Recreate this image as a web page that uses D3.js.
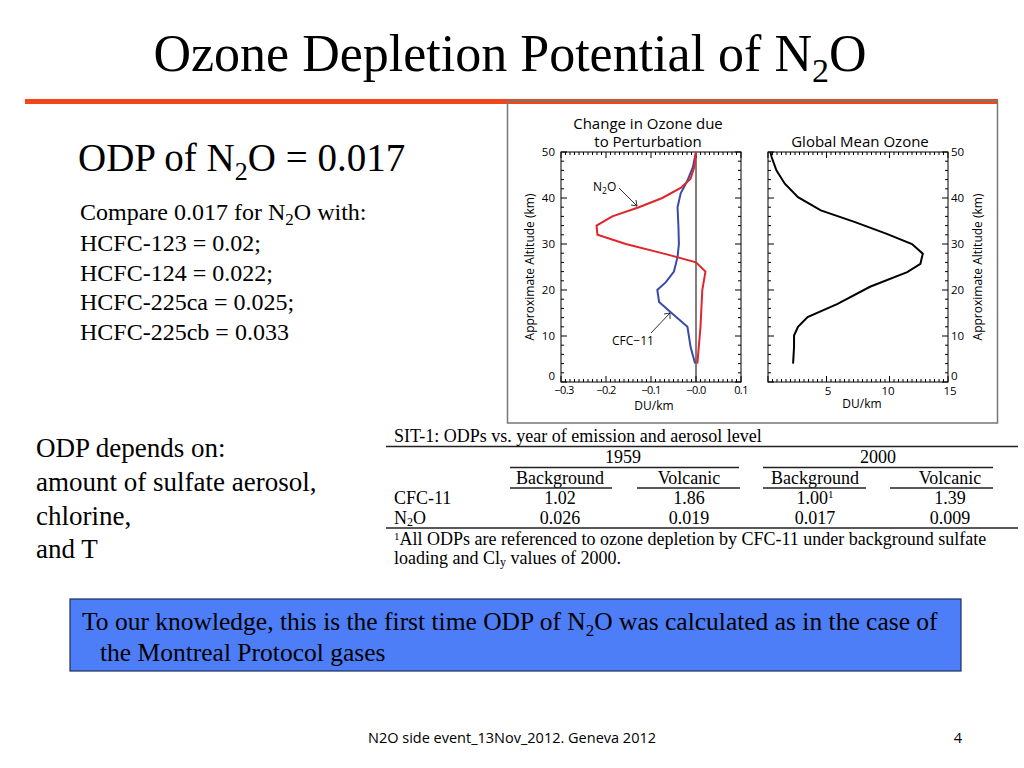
<!DOCTYPE html>
<html><head><meta charset="utf-8">
<script src="https://cdn.jsdelivr.net/npm/d3@7"></script>
<style>body{margin:0;background:#fff}svg{display:block}</style>
</head><body><svg id="s" width="1024" height="768"></svg>
<script>
const altitudes_n2o = [4,12,20,24,26,27.8,30,32,34,36,38,40,42.2,44.2,46.7,50];
const n2o_change = [0.003,0.01,0.014,0.021,0,-0.067,-0.156,-0.219,-0.221,-0.186,-0.127,-0.075,-0.034,-0.012,-0.004,0];
const altitudes_cfc = [4,7.6,12,14.9,17.4,20,21.7,24,27.2,30,33.7,38,41,43.8,46.7,50];
const cfc11_change = [-0.002,-0.012,-0.019,-0.053,-0.082,-0.086,-0.067,-0.049,-0.041,-0.038,-0.039,-0.041,-0.034,-0.019,-0.007,0];
const altitudes_oz = [4,7.6,10.1,12,14.1,17,20.7,23.9,25.7,27.9,30,32.2,34.8,37.3,40.2,43.1,46,48.9,50];
const ozone_mean = [2.09,2.17,2.17,2.5,3.3,5.8,8.5,11.6,12.7,12.9,12.0,9.9,7.2,4.4,2.5,1.4,0.7,0.3,0.2];
const leftTicks = [-0.3,-0.2,-0.1,0,0.1];
const leftTickLabels = ["\u22120.3","\u22120.2","\u22120.1","\u22120.0","0.1"];
const rightTicks = [5,10,15];
const altTicks = [0,10,20,30,40,50];
const compareLines = ["HCFC-123 = 0.02;","HCFC-124 = 0.022;","HCFC-225ca = 0.025;","HCFC-225cb = 0.033"];
const dependsLines = ["amount of sulfate aerosol,","chlorine,","and T"];
const tableCols = ["Background","Volcanic","Background","Volcanic"];
const cfc11Row = ["1.02","1.86","1.00","1.39"];
const n2oRow = ["0.026","0.019","0.017","0.009"];

const svg = d3.select("#s");
const serif = "'Liberation Serif','Times New Roman',serif";
const sans = "'Open Sans','Liberation Sans',sans-serif";

const t = svg.append("text").attr("x",510).attr("y",71).attr("text-anchor","middle").attr("font-family",serif).attr("font-size",52);
t.append("tspan").text("Ozone Depletion Potential of N");
t.append("tspan").attr("font-size",34).attr("dy",11).text("2");
t.append("tspan").attr("dy",-11).text("O");
svg.append("rect").attr("x",25).attr("y",99).attr("width",973).attr("height",5).attr("fill","#f2461a");

const o = svg.append("text").attr("x",78).attr("y",171).attr("font-family",serif).attr("font-size",39);
o.append("tspan").text("ODP of N"); o.append("tspan").attr("font-size",26).attr("dy",9).text("2"); o.append("tspan").attr("dy",-9).text("O = 0.017");
const c = svg.append("text").attr("x",80).attr("y",220).attr("font-family",serif).attr("font-size",24);
c.append("tspan").text("Compare 0.017 for N"); c.append("tspan").attr("font-size",17).attr("dy",5).text("2"); c.append("tspan").attr("dy",-5).text("O with:");
compareLines.forEach((l,i)=>svg.append("text").attr("x",80).attr("y",251+i*29.5).attr("font-family",serif).attr("font-size",24).text(l));
svg.append("text").attr("x",36).attr("y",457).attr("font-family",serif).attr("font-size",27).text("ODP depends on:");
dependsLines.forEach((l,i)=>svg.append("text").attr("x",36).attr("y",491+i*33.5).attr("font-family",serif).attr("font-size",27).text(l));

svg.append("rect").attr("x",507.5).attr("y",101).attr("width",490).attr("height",322).attr("fill","none").attr("stroke","#777").attr("stroke-width",1.5);

const yS = d3.scaleLinear().domain([0,50]).range([382,152]);
const xL = d3.scaleLinear().domain([-0.3,0.1]).range([561,741]);
const xR = d3.scaleLinear().domain([0,15]).range([768,948]);

function frame(xs, xt){
  const [x0,x1]=xs.range();
  const g=svg.append("g");
  g.append("rect").attr("x",x0).attr("y",152).attr("width",x1-x0).attr("height",230).attr("fill","none").attr("stroke","#000").attr("stroke-width",1);
  d3.range(0,51,2).forEach(a=>{const len=a%10===0?6:3;
    g.append("line").attr("x1",x0).attr("x2",x0+len).attr("y1",yS(a)).attr("y2",yS(a)).attr("stroke","#000");
    g.append("line").attr("x1",x1).attr("x2",x1-len).attr("y1",yS(a)).attr("y2",yS(a)).attr("stroke","#000");});
  const [d0,d1]=xs.domain(); const step=(d1-d0)/40;
  for(let i=0;i<=40;i++){const v=d0+i*step; const X=xs(v); const major=xt.some(tv=>Math.abs(tv-v)<step/2); const len=major?6:3;
    g.append("line").attr("x1",X).attr("x2",X).attr("y1",382).attr("y2",382-len).attr("stroke","#000");
    g.append("line").attr("x1",X).attr("x2",X).attr("y1",152).attr("y2",152+len).attr("stroke","#000");}
  return g;
}
frame(xL,leftTicks);
frame(xR,[0,5,10,15]);
leftTicks.forEach((v,i)=>svg.append("text").attr("x",xL(v)+(i==0?3:0)).attr("y",394).attr("text-anchor","middle").attr("font-family",sans).attr("font-size",11).attr("letter-spacing",-0.6).text(leftTickLabels[i]));
rightTicks.forEach(v=>svg.append("text").attr("x",xR(v)+(v==15?2:0)).attr("y",395).attr("text-anchor","middle").attr("font-family",sans).attr("font-size",11.5).text(v));
altTicks.forEach(a=>{
  svg.append("text").attr("x",555).attr("y",yS(a)+(a==0?-2:4)).attr("text-anchor","end").attr("font-family",sans).attr("font-size",11.5).text(a);
  svg.append("text").attr("x",951).attr("y",yS(a)+(a==0?-2:4)).attr("font-family",sans).attr("font-size",11.5).text(a);});
svg.append("text").attr("x",654).attr("y",410).attr("text-anchor","middle").attr("font-family",sans).attr("font-size",12).text("DU/km");
svg.append("text").attr("x",862).attr("y",408).attr("text-anchor","middle").attr("font-family",sans).attr("font-size",12).text("DU/km");
svg.append("text").attr("transform","translate(534,267) rotate(-90)").attr("text-anchor","middle").attr("font-family",sans).attr("font-size",12).text("Approximate Altitude (km)");
svg.append("text").attr("transform","translate(982,267) rotate(-90)").attr("text-anchor","middle").attr("font-family",sans).attr("font-size",12).text("Approximate Altitude (km)");
svg.append("text").attr("x",648).attr("y",129).attr("text-anchor","middle").attr("font-family",sans).attr("font-size",15).text("Change in Ozone due");
svg.append("text").attr("x",648).attr("y",147).attr("text-anchor","middle").attr("font-family",sans).attr("font-size",15).text("to Perturbation");
svg.append("text").attr("x",860).attr("y",147).attr("text-anchor","middle").attr("font-family",sans).attr("font-size",15).text("Global Mean Ozone");

svg.append("line").attr("x1",xL(0)).attr("x2",xL(0)).attr("y1",152).attr("y2",382).attr("stroke","#000").attr("stroke-width",1);
const line=(xs)=>d3.line().x(d=>xs(d[0])).y(d=>yS(d[1]));
svg.append("path").datum(cfc11_change.map((v,i)=>[v,altitudes_cfc[i]])).attr("d",line(xL)).attr("fill","none").attr("stroke","#3a4aa8").attr("stroke-width",2);
svg.append("path").datum(n2o_change.map((v,i)=>[v,altitudes_n2o[i]])).attr("d",line(xL)).attr("fill","none").attr("stroke","#e0262b").attr("stroke-width",2);
svg.append("path").datum(ozone_mean.map((v,i)=>[v,altitudes_oz[i]])).attr("d",line(xR)).attr("fill","none").attr("stroke","#000").attr("stroke-width",2);

const na=svg.append("text").attr("x",593).attr("y",191).attr("font-family",sans).attr("font-size",12);
na.append("tspan").text("N"); na.append("tspan").attr("font-size",8.5).attr("dy",3).text("2"); na.append("tspan").attr("dy",-3).text("O");
svg.append("line").attr("x1",619).attr("y1",188).attr("x2",637).attr("y2",206).attr("stroke","#000").attr("stroke-width",0.8);
svg.append("path").attr("d","M637,206 l-6,-1 M637,206 l-1,-6").attr("stroke","#000").attr("stroke-width",0.8).attr("fill","none");
svg.append("text").attr("x",612).attr("y",345).attr("font-family",sans).attr("font-size",12).text("CFC\u221211");
svg.append("line").attr("x1",651).attr("y1",333).attr("x2",670).attr("y2",313).attr("stroke","#000").attr("stroke-width",0.8);
svg.append("path").attr("d","M670,313 l-6,1 M670,313 l0,6").attr("stroke","#000").attr("stroke-width",0.8).attr("fill","none");

const tf="'Liberation Serif',serif";
const tfs=18;
svg.append("text").attr("x",394).attr("y",442).attr("font-family",tf).attr("font-size",tfs).text("SIT-1: ODPs vs. year of emission and aerosol level");
svg.append("line").attr("x1",386).attr("x2",1018).attr("y1",446.5).attr("y2",446.5).attr("stroke","#222").attr("stroke-width",1.5);
svg.append("line").attr("x1",386).attr("x2",1018).attr("y1",528).attr("y2",528).attr("stroke","#222").attr("stroke-width",1.5);
const colX=[560,689,815,950];
[["1959",623,510,739],["2000",878,763,993]].forEach(d=>{
  svg.append("text").attr("x",d[1]).attr("y",463).attr("text-anchor","middle").attr("font-family",tf).attr("font-size",tfs).text(d[0]);
  svg.append("line").attr("x1",d[2]).attr("x2",d[3]).attr("y1",467.5).attr("y2",467.5).attr("stroke","#222").attr("stroke-width",1.3);});
const colSpan=[[510,612],[637,740],[763,866],[890,993]];
tableCols.forEach((h,i)=>{
  svg.append("text").attr("x",colX[i]).attr("y",484).attr("text-anchor","middle").attr("font-family",tf).attr("font-size",tfs).text(h);
  svg.append("line").attr("x1",colSpan[i][0]).attr("x2",colSpan[i][1]).attr("y1",488).attr("y2",488).attr("stroke","#222").attr("stroke-width",1.3);
  const ct=svg.append("text").attr("x",colX[i]).attr("y",504).attr("text-anchor","middle").attr("font-family",tf).attr("font-size",tfs).text(cfc11Row[i]);
  if(i==2) ct.append("tspan").attr("font-size",11).attr("dy",-6).text("1");
  svg.append("text").attr("x",colX[i]).attr("y",524).attr("text-anchor","middle").attr("font-family",tf).attr("font-size",tfs).text(n2oRow[i]);});
svg.append("text").attr("x",394).attr("y",504).attr("font-family",tf).attr("font-size",tfs).text("CFC-11");
const nr=svg.append("text").attr("x",394).attr("y",524).attr("font-family",tf).attr("font-size",tfs);
nr.append("tspan").text("N"); nr.append("tspan").attr("font-size",12).attr("dy",2).text("2"); nr.append("tspan").attr("dy",-2).text("O");
const f1=svg.append("text").attr("x",394).attr("y",545).attr("font-family",tf).attr("font-size",tfs);
f1.append("tspan").attr("font-size",11).attr("dy",-5).text("1"); f1.append("tspan").attr("dy",5).text("All ODPs are referenced to ozone depletion by CFC-11 under background sulfate");
const f2=svg.append("text").attr("x",394).attr("y",564).attr("font-family",tf).attr("font-size",tfs);
f2.append("tspan").text("loading and Cl"); f2.append("tspan").attr("font-size",12).attr("dy",2).text("y"); f2.append("tspan").attr("dy",-2).text(" values of 2000.");

svg.append("rect").attr("x",70).attr("y",599).attr("width",891).attr("height",72).attr("fill","#4d7ef7").attr("stroke","#1e2e5a").attr("stroke-width",1.2);
const b=svg.append("text").attr("x",82).attr("y",630).attr("font-family",serif).attr("font-size",25.5);
b.append("tspan").text("To our knowledge, this is the first time ODP of N"); b.append("tspan").attr("font-size",17).attr("dy",6).text("2"); b.append("tspan").attr("dy",-6).text("O was calculated as in the case of");
svg.append("text").attr("x",100).attr("y",661).attr("font-family",serif).attr("font-size",25.5).text("the Montreal Protocol gases");

svg.append("text").attr("x",512).attr("y",743).attr("text-anchor","middle").attr("font-family","'Open Sans',sans-serif").attr("font-size",14.5).text("N2O side event_13Nov_2012. Geneva 2012");
svg.append("text").attr("x",958).attr("y",743).attr("text-anchor","middle").attr("font-family","'Open Sans',sans-serif").attr("font-size",14.5).text("4");
</script></body></html>
